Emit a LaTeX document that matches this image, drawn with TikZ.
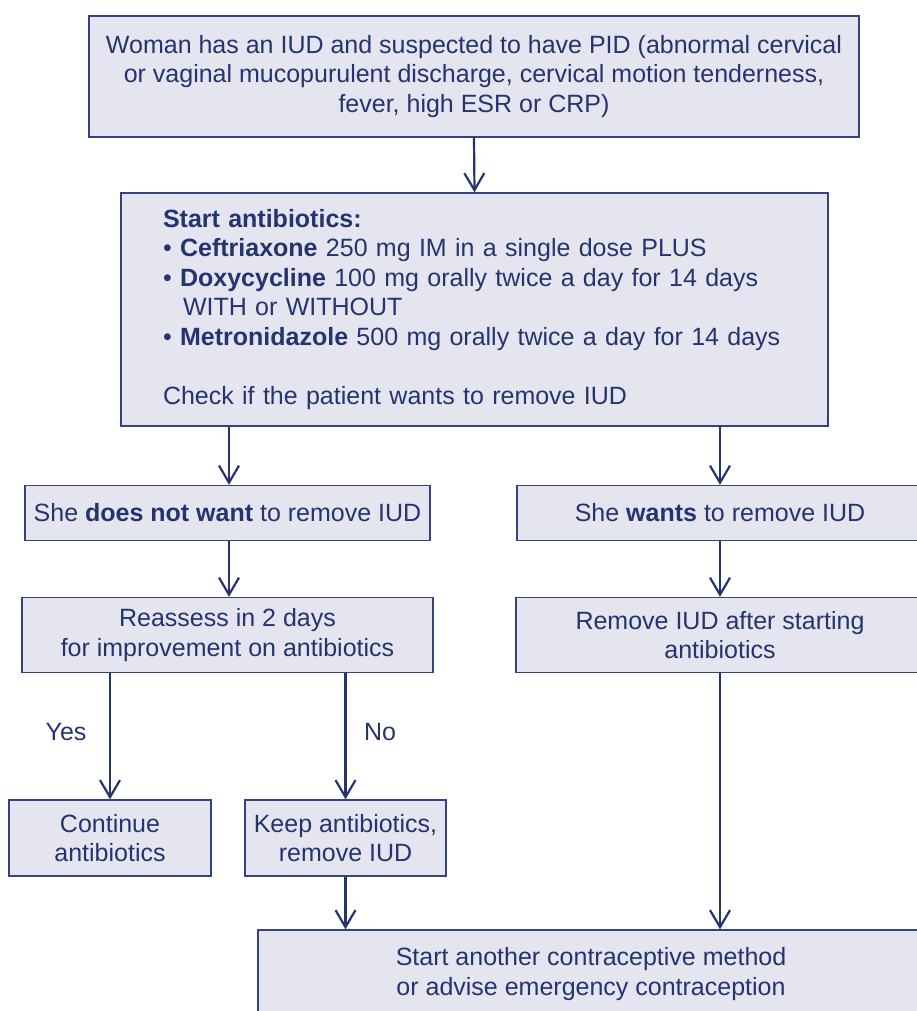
\documentclass[tikz,border=0pt]{standalone}
\usepackage{fontspec}
\setmainfont{Liberation Sans}
\usetikzlibrary{arrows.meta}
\definecolor{navy}{RGB}{35,52,112}
\definecolor{boxfill}{RGB}{228,229,238}
\definecolor{boxline}{RGB}{52,68,128}
\tikzset{
  box/.style={draw=boxline, line width=1.4pt, fill=boxfill, text=navy,
    align=center, inner sep=0pt, font=\fontsize{25}{29.6}\selectfont},
  flow/.style={draw=navy, line width=2.2pt,
    -{Straight Barb[length=17pt,width=20pt,line width=2.2pt]}},
  lbl/.style={text=navy, font=\fontsize{25}{29.6}\selectfont}
}
\begin{document}
\begin{tikzpicture}[x=1pt,y=-1pt]
\useasboundingbox (0,0) rectangle (917,1011);
\clip (0,0) rectangle (917,1011);

% suspicion of PID
\node[box, minimum width=770, minimum height=121] (susp) at (474,76.5)
  {Woman has an IUD and suspected to have PID (abnormal cervical\\
   or vaginal mucopurulent discharge, cervical motion tenderness,\\
   fever, high ESR or CRP)};

% antibiotic regimen
\node[box, minimum width=707, minimum height=233, align=left,
      text width=623, inner xsep=42] (treat) at (474.5,309.5)
  {\textbf{Start antibiotics:}\\
   • \textbf{Ceftriaxone} 250 mg IM in a single dose PLUS\\
   • \textbf{Doxycycline} 100 mg orally twice a day for 14 days\\
   \hspace*{20pt}WITH or WITHOUT\\
   • \textbf{Metronidazole} 500 mg orally twice a day for 14 days\\[29.6pt]
   Check if the patient wants to remove IUD};

% decision branches
\node[box, minimum width=405, minimum height=55] (keep) at (227.5,513)
  {She \textbf{does not want} to remove IUD};
\node[box, minimum width=406, minimum height=55] (wants) at (720,513)
  {She \textbf{wants} to remove IUD};

\node[box, minimum width=411, minimum height=75] (reass) at (227.5,635)
  {Reassess in 2 days\\for improvement on antibiotics};
\node[box, minimum width=408, minimum height=75] (remove) at (720,635)
  {Remove IUD after starting\\antibiotics};

\node[box, minimum width=202, minimum height=76] (cont) at (110,838)
  {Continue\\antibiotics};
\node[box, minimum width=201, minimum height=76] (keepab) at (345.5,838)
  {Keep antibiotics,\\remove IUD};

\node[box, minimum width=666, minimum height=88] (contra) at (591,974)
  {Start another contraceptive method\\or advise emergency contraception};

% connectors
\draw[flow] (susp.south) -- (treat.north);
\draw[flow] (treat.south -| 229,0) -- (keep.north -| 229,0);
\draw[flow] (treat.south -| wants.north) -- (wants.north);
\draw[flow] (keep.south -| 229,0) -- (reass.north -| 229,0);
\draw[flow] (wants.south) -- (remove.north);
\draw[flow] (reass.south -| cont.north) -- (cont.north);
\draw[flow] (reass.south -| keepab.north) -- (keepab.north);
\draw[flow] (keepab.south) -- (contra.north -| keepab.south);
\draw[flow] (remove.south) -- (contra.north -| remove.south);

\node[lbl] (yes) at (66,732) {Yes};
\node[lbl] (no) at (380,732) {No};
\end{tikzpicture}
\end{document}
